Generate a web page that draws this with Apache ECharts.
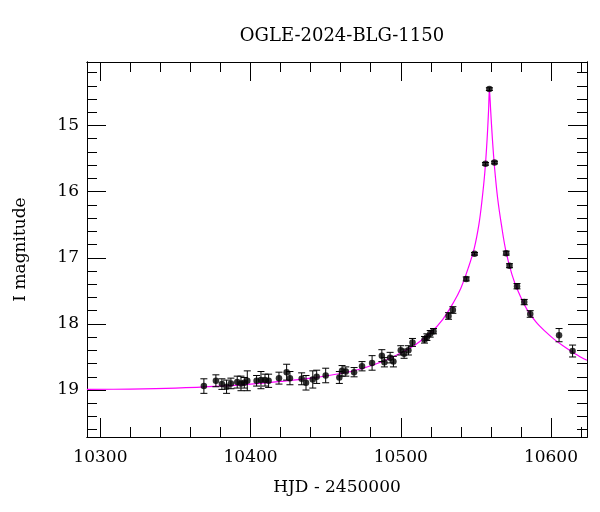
<!DOCTYPE html>
<html>
<head>
<meta charset="utf-8">
<script src="https://cdn.jsdelivr.net/npm/echarts@6/dist/echarts.min.js"></script>
<style>html,body{margin:0;padding:0;background:#fff}#c{width:600px;height:512px}</style>
</head>
<body>
<div id="c"></div>
<script>
// ---- Data ----
const chartTitle = 'OGLE-2024-BLG-1150';
const xName = 'HJD - 2450000';
const yName = 'I magnitude';

// model light curve (magenta)
const modelT = [10291, 10320, 10350, 10380, 10400, 10420, 10440, 10460, 10475, 10490, 10500, 10510, 10520, 10528, 10535, 10540, 10545, 10549, 10552, 10554, 10556, 10557.5, 10558.5, 10559, 10559.8, 10561, 10562.5, 10564.5, 10567, 10570, 10574, 10578, 10584, 10590, 10596, 10602, 10608, 10616, 10624];
const modelMag = [18.99, 18.985, 18.97, 18.94, 18.91, 18.87, 18.82, 18.75, 18.67, 18.55, 18.44, 18.31, 18.13, 17.93, 17.68, 17.46, 17.15, 16.85, 16.5, 16.15, 15.7, 15.2, 14.75, 14.45, 14.75, 15.2, 15.65, 16.1, 16.5, 16.9, 17.25, 17.5, 17.78, 17.97, 18.11, 18.23, 18.33, 18.45, 18.55];

// observations
const obsT = [10368.9, 10376.9, 10380.9, 10384.0, 10386.9, 10391.1, 10393.6, 10395.8, 10397.8, 10404.0, 10406.9, 10409.6, 10412.0, 10418.9, 10424.0, 10426.2, 10434.0, 10436.9, 10441.4, 10444.0, 10450.0, 10459.1, 10460.9, 10463.4, 10468.9, 10474.2, 10480.9, 10487.4, 10489.1, 10492.9, 10495.1, 10500.0, 10502.2, 10505.1, 10507.8, 10515.8, 10517.4, 10519.6, 10521.8, 10531.8, 10534.7, 10543.6, 10549.1, 10556.4, 10559.0, 10562.4, 10570.2, 10572.4, 10577.4, 10582.2, 10586.2, 10605.4, 10614.4];
const obsMag = [18.94, 18.86, 18.91, 18.95, 18.90, 18.88, 18.90, 18.89, 18.86, 18.86, 18.85, 18.85, 18.86, 18.82, 18.73, 18.82, 18.83, 18.89, 18.84, 18.80, 18.78, 18.81, 18.71, 18.72, 18.73, 18.64, 18.59, 18.48, 18.58, 18.51, 18.57, 18.40, 18.45, 18.40, 18.28, 18.24, 18.20, 18.15, 18.11, 17.88, 17.79, 17.32, 16.94, 15.58, 14.45, 15.56, 16.93, 17.12, 17.43, 17.67, 17.85, 18.17, 18.41];
const obsErr = [0.11, 0.09, 0.08, 0.10, 0.08, 0.09, 0.11, 0.08, 0.15, 0.08, 0.13, 0.09, 0.10, 0.09, 0.12, 0.10, 0.09, 0.11, 0.13, 0.10, 0.11, 0.09, 0.08, 0.07, 0.07, 0.07, 0.11, 0.09, 0.07, 0.08, 0.08, 0.07, 0.07, 0.07, 0.06, 0.05, 0.05, 0.05, 0.04, 0.05, 0.05, 0.03, 0.02, 0.02, 0.02, 0.02, 0.03, 0.03, 0.04, 0.04, 0.05, 0.10, 0.09];

// ticks
const xMajor = [10300, 10400, 10500, 10600];
const xMinor = [10320, 10340, 10360, 10380, 10420, 10440, 10460, 10480, 10520, 10540, 10560, 10580, 10620];
const yMajor = [15, 16, 17, 18, 19];
const yMinor = [14.2, 14.4, 14.6, 14.8, 15.2, 15.4, 15.6, 15.8, 16.2, 16.4, 16.6, 16.8, 17.2, 17.4, 17.6, 17.8, 18.2, 18.4, 18.6, 18.8, 19.2, 19.4, 19.6];

// ---- Chart ----
const X_MIN = 10291.07, X_MAX = 10624.0, Y_MIN = 14.04, Y_MAX = 19.71;
const FONT = 'DejaVu Serif';
const black = '#000';
const plain = v => String(Math.round(v * 100) / 100);

function xAx(pos, ticks, len, withLabel, extra) {
  return Object.assign({
    type: 'value', min: X_MIN, max: X_MAX, position: pos, gridIndex: 0,
    axisLine: { show: true, onZero: false, lineStyle: { color: black, width: 1 } },
    axisTick: { show: true, inside: true, length: len, customValues: ticks, lineStyle: { color: black, width: 1 } },
    axisLabel: withLabel ? { show: true, customValues: ticks, formatter: plain, fontFamily: FONT, fontSize: 17, color: black, margin: 12 } : { show: false },
    splitLine: { show: false }
  }, extra || {});
}
function yAx(pos, ticks, len, withLabel, extra) {
  return Object.assign({
    type: 'value', min: Y_MIN, max: Y_MAX, inverse: true, position: pos, gridIndex: 0,
    axisLine: { show: true, onZero: false, lineStyle: { color: black, width: 1 } },
    axisTick: { show: true, inside: true, length: len, customValues: ticks, lineStyle: { color: black, width: 1 } },
    axisLabel: withLabel ? { show: true, customValues: ticks, formatter: plain, fontFamily: FONT, fontSize: 17, color: black, margin: 8 } : { show: false },
    splitLine: { show: false }
  }, extra || {});
}

const obsData = obsT.map((t, i) => [t, obsMag[i], obsErr[i]]);
const modelData = modelT.map((t, i) => [t, modelMag[i]]);

const chart = echarts.init(document.getElementById('c'), null, { renderer: 'canvas' });
chart.setOption({
  animation: false,
  backgroundColor: '#fff',
  title: {
    text: chartTitle, left: 337, top: 22, textAlign: 'center',
    textStyle: { fontFamily: FONT, fontSize: 18, fontWeight: 'normal', color: black }
  },
  grid: { left: 87, right: 13, top: 62, bottom: 75 },
  xAxis: [
    xAx('bottom', xMajor, 19, true, {
      name: xName, nameLocation: 'middle', nameGap: 42,
      nameTextStyle: { fontFamily: FONT, fontSize: 17, color: black }
    }),
    xAx('bottom', xMinor, 10, false),
    xAx('top', xMajor, 19, false),
    xAx('top', xMinor, 10, false)
  ],
  yAxis: [
    yAx('left', yMajor, 19, true, {
      name: yName, nameLocation: 'middle', nameGap: 58, nameRotate: 90,
      nameTextStyle: { fontFamily: FONT, fontSize: 17, color: black }
    }),
    yAx('left', yMinor, 10, false),
    yAx('right', yMajor, 19, false),
    yAx('right', yMinor, 10, false)
  ],
  series: [
    {
      type: 'line', xAxisIndex: 0, yAxisIndex: 0, data: modelData,
      showSymbol: false, smooth: 0.35,
      lineStyle: { color: '#ff00ff', width: 1.2 }, z: 2
    },
    {
      type: 'custom', xAxisIndex: 0, yAxisIndex: 0, data: obsData, z: 3,
      encode: { x: 0, y: 1 },
      renderItem: function (params, api) {
        const t = api.value(0), m = api.value(1), e = api.value(2);
        const hi = api.coord([t, m - e]);
        const lo = api.coord([t, m + e]);
        const w = 3.5;
        const st = { stroke: black, lineWidth: 1 };
        return {
          type: 'group',
          children: [
            { type: 'line', shape: { x1: hi[0], y1: hi[1], x2: lo[0], y2: lo[1] }, style: st },
            { type: 'line', shape: { x1: hi[0] - w, y1: hi[1], x2: hi[0] + w, y2: hi[1] }, style: st },
            { type: 'line', shape: { x1: lo[0] - w, y1: lo[1], x2: lo[0] + w, y2: lo[1] }, style: st }
          ]
        };
      }
    },
    {
      type: 'scatter', xAxisIndex: 0, yAxisIndex: 0, z: 4,
      data: obsData.map(d => [d[0], d[1]]),
      symbol: 'circle', symbolSize: 6.5, itemStyle: { color: black }
    }
  ]
});
</script>
</body>
</html>
